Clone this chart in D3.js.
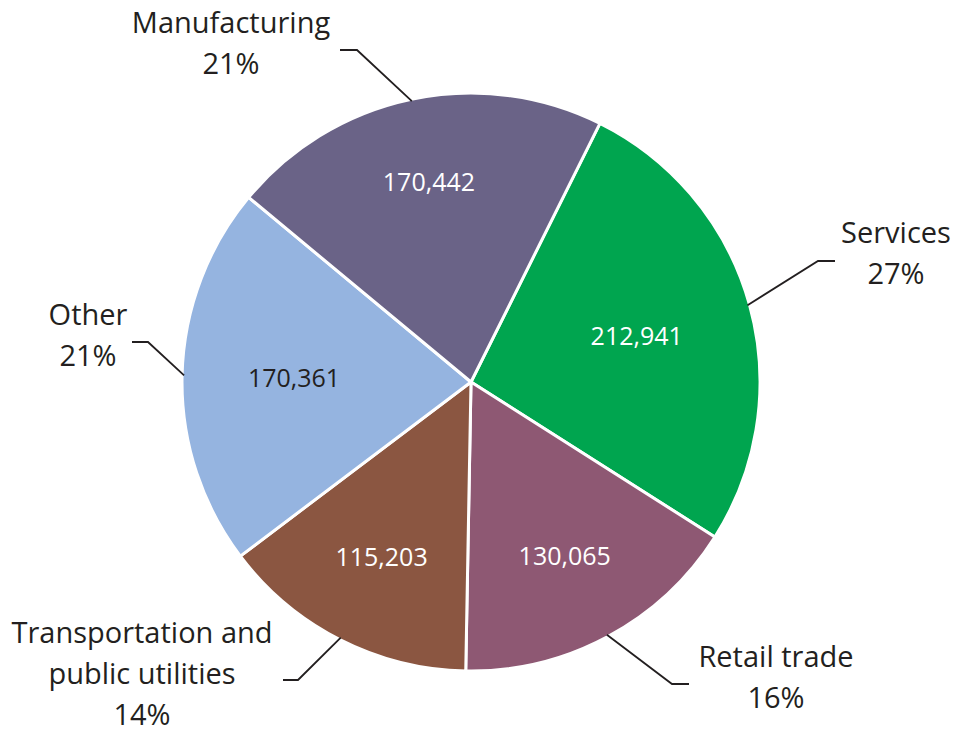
<!DOCTYPE html>
<html>
<head>
<meta charset="utf-8">
<script src="https://cdn.jsdelivr.net/npm/d3@7"></script>
<style>
  body { margin: 0; background: #fff; }
  svg { display: block; font-family: "Open Sans", "Noto Sans", sans-serif; }
</style>
</head>
<body>
<div id="chart"></div>
<script>
// Employment by sector
const categories = ["Services", "Retail trade", "Transportation and public utilities", "Other", "Manufacturing"];
const nameLines = [["Services"], ["Retail trade"], ["Transportation and", "public utilities"], ["Other"], ["Manufacturing"]];
const values = [212941, 130065, 115203, 170361, 170442];
const colors = ["#00a54f", "#8e5873", "#8b5641", "#95b4e0", "#6a6387"];
const valueTextColors = ["#fff", "#fff", "#fff", "#231f20", "#fff"];

// label layout, relative to the pie centre
const layout = {
  "Services":      { inner: 172, elbow: [347, -121], tail: 17,  text: [425, -139] },
  "Retail trade":  { inner: 198, elbow: [201, 302],  tail: 17,  text: [305, 285] },
  "Transportation and public utilities": { inner: 197, elbow: [-173, 298], tail: -15, text: [-329, 261] },
  "Other":         { inner: 177, elbow: [-323, -40], tail: -16, text: [-383, -57] },
  "Manufacturing": { inner: 204, elbow: [-114, -332], tail: -17, text: [-240, -349] }
};

const width = 958, height = 732;
const cx = 471, cy = 382, radius = 289;
const lineH = 41;

const svg = d3.select("#chart").append("svg")
    .attr("width", width)
    .attr("height", height);

const g = svg.append("g")
    .attr("transform", "translate(" + cx + "," + cy + ")");

const data = categories.map((c, i) => ({ name: c, value: values[i], i: i }));
const total = d3.sum(values);

const startAngle = 26.5 * Math.PI / 180;
const pie = d3.pie()
    .value(d => d.value)
    .sort(null)
    .startAngle(startAngle)
    .endAngle(startAngle + 2 * Math.PI);

const arcs = pie(data);
const arc = d3.arc().innerRadius(0).outerRadius(radius);

g.selectAll("path.slice")
    .data(arcs)
    .enter()
    .append("path")
    .attr("class", "slice")
    .attr("d", arc)
    .attr("fill", d => colors[d.data.i])
    .attr("stroke", "#fff")
    .attr("stroke-width", 3)
    .attr("stroke-linejoin", "round");

// values inside the slices
g.selectAll("text.val")
    .data(arcs)
    .enter()
    .append("text")
    .attr("class", "val")
    .attr("transform", d => {
      const r = layout[d.data.name].inner;
      const a = (d.startAngle + d.endAngle) / 2;
      return "translate(" + (Math.sin(a) * r) + "," + (-Math.cos(a) * r) + ")";
    })
    .attr("text-anchor", "middle")
    .attr("dy", "0.35em")
    .attr("font-size", 25)
    .attr("fill", d => valueTextColors[d.data.i])
    .text(d => d3.format(",")(d.data.value));

// leader lines
g.selectAll("path.leader")
    .data(arcs)
    .enter()
    .append("path")
    .attr("class", "leader")
    .attr("fill", "none")
    .attr("stroke", "#231f20")
    .attr("stroke-width", 1.8)
    .attr("d", d => {
      const L = layout[d.data.name];
      const a = (d.startAngle + d.endAngle) / 2;
      const p0 = [Math.sin(a) * (radius - 2), -Math.cos(a) * (radius - 2)];
      return d3.line()([p0, L.elbow, [L.elbow[0] + L.tail, L.elbow[1]]]);
    });

// outer labels
const outer = g.selectAll("text.lbl")
    .data(arcs)
    .enter()
    .append("text")
    .attr("class", "lbl")
    .attr("text-anchor", "middle")
    .attr("font-size", 29)
    .attr("fill", "#231f20")
    .attr("x", d => layout[d.data.name].text[0])
    .attr("y", d => layout[d.data.name].text[1]);

outer.each(function(d) {
  const t = d3.select(this);
  const x = layout[d.data.name].text[0];
  const lines = nameLines[d.data.i].concat([Math.round(d.data.value / total * 100) + "%"]);
  lines.forEach((s, k) => {
    t.append("tspan")
      .attr("x", x)
      .attr("dy", k === 0 ? 0 : lineH)
      .text(s);
  });
});
</script>
</body>
</html>
